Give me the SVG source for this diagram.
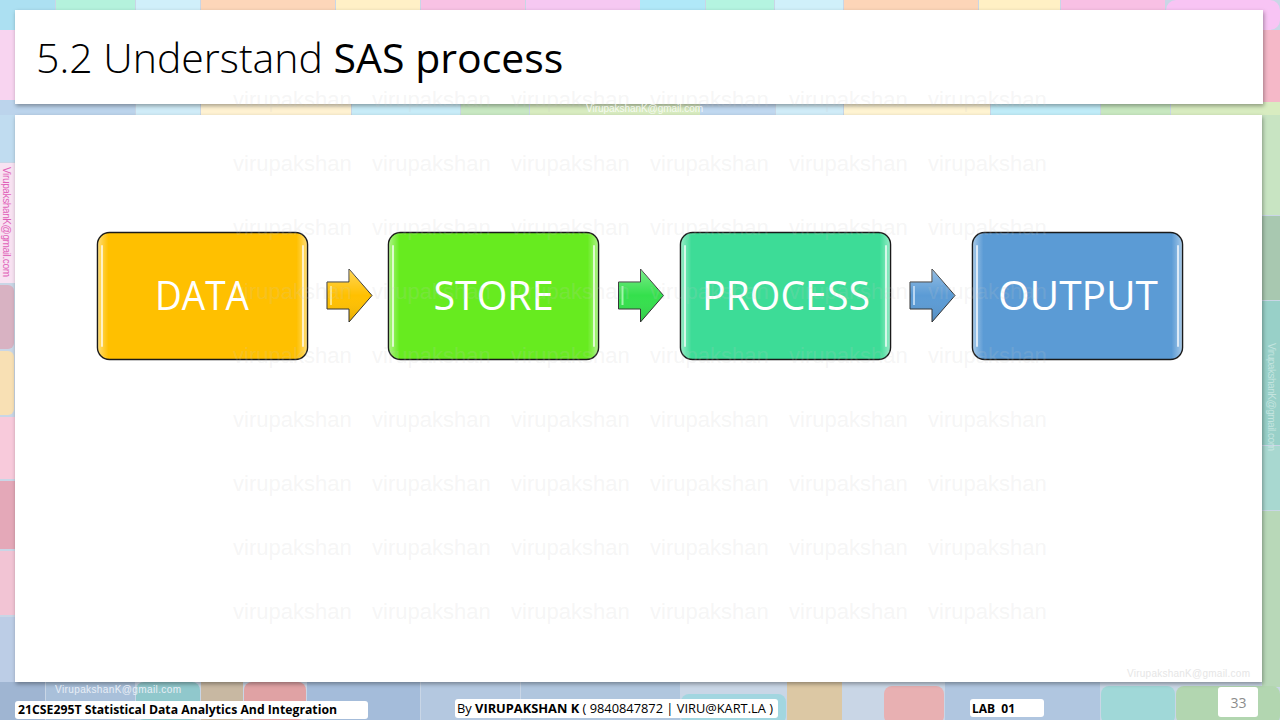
<svg xmlns="http://www.w3.org/2000/svg" width="1280" height="720" viewBox="0 0 1280 720">
<defs>
<style>
.wm{font-family:"Liberation Sans",Arial,sans-serif;font-size:22px;fill:#c8c8c8;fill-opacity:0.18}
.lbl{font-family:"Open Sans","Liberation Sans",sans-serif;font-size:40px;fill:#ffffff;text-anchor:middle}
.box{stroke:#1a1a1a;stroke-width:1.5}
.edge{fill:url(#edgeG)}
.hl{stroke:#ffffff;stroke-opacity:0.7;stroke-width:2;stroke-linecap:round}
.arr{stroke:#333333;stroke-width:1;stroke-linejoin:miter}
.ft{font-family:"Open Sans","Liberation Sans",sans-serif;font-size:12px;fill:#000000}
.fbox{fill:#ffffff}
.tt{font-family:"Open Sans","Liberation Sans",sans-serif;font-size:41px;fill:#000000}
.mail{font-family:"Liberation Sans",Arial,sans-serif;font-size:10px}
</style>
<filter id="sh" x="-2%" y="-10%" width="104%" height="130%">
<feDropShadow dx="1" dy="2" stdDeviation="2" flood-color="#000000" flood-opacity="0.35"/>
</filter>
<linearGradient id="edgeG" x1="0" x2="1" y1="0" y2="0">
<stop offset="0" stop-color="#ffffff" stop-opacity="0.45"/>
<stop offset="0.05" stop-color="#ffffff" stop-opacity="0"/>
<stop offset="0.95" stop-color="#ffffff" stop-opacity="0"/>
<stop offset="1" stop-color="#ffffff" stop-opacity="0.45"/>
</linearGradient>
<linearGradient id="arrG" x1="0" x2="0" y1="0" y2="1">
<stop offset="0" stop-color="#ffffff" stop-opacity="0.35"/>
<stop offset="0.5" stop-color="#ffffff" stop-opacity="0"/>
<stop offset="1" stop-color="#000000" stop-opacity="0.12"/>
</linearGradient>
</defs>

<!-- background tiles -->
<g id="background">
<rect x="0" y="0" width="1280" height="720" fill="#c9d6e6"/>
<rect x="0" y="0" width="55" height="30" fill="#ace0f2"/>
<rect x="56" y="0" width="79" height="30" fill="#b4f2dc"/>
<rect x="136" y="0" width="64" height="30" fill="#d0effa"/>
<rect x="201" y="0" width="134" height="30" fill="#fdd6b9"/>
<rect x="336" y="0" width="84" height="30" fill="#fff0c6"/>
<rect x="421" y="0" width="104" height="30" fill="#f8c2e4"/>
<rect x="526" y="0" width="114" height="30" fill="#f6c8f2"/>
<rect x="640" y="0" width="65" height="30" fill="#b0e8f8"/>
<rect x="706" y="0" width="68" height="30" fill="#b4f4e0"/>
<rect x="775" y="0" width="68" height="30" fill="#d0f0fa"/>
<rect x="844" y="0" width="134" height="30" fill="#fdd5b8"/>
<rect x="979" y="0" width="81" height="30" fill="#fff0c4"/>
<rect x="1061" y="0" width="104" height="30" fill="#f8c0e4"/>
<rect x="1166" y="0" width="114" height="30" rx="10" fill="#f8c4f4"/>
<rect x="0" y="100" width="135" height="20" fill="#bcd4ec"/>
<rect x="136" y="100" width="64" height="20" fill="#d0ecf8"/>
<rect x="201" y="100" width="150" height="20" fill="#fff2d2"/>
<rect x="352" y="100" width="108" height="20" fill="#c8ecf8"/>
<rect x="461" y="100" width="68" height="20" fill="#c8e8c2"/>
<rect x="530" y="100" width="170" height="20" fill="#d8ecc0"/>
<rect x="700" y="100" width="75" height="20" fill="#c0d8f0"/>
<rect x="776" y="100" width="67" height="20" fill="#d0ecf8"/>
<rect x="844" y="100" width="146" height="20" fill="#fff4d2"/>
<rect x="991" y="100" width="109" height="20" fill="#c0ecf8"/>
<rect x="1101" y="100" width="69" height="20" fill="#c8e8c0"/>
<rect x="1171" y="100" width="109" height="20" fill="#d8ecc0"/>
<rect x="0" y="30" width="15" height="70" fill="#f8d4f0"/>
<rect x="0" y="115" width="15" height="47" fill="#c0dcf0"/>
<rect x="0" y="163" width="15" height="120" fill="#f8e2f2"/>
<rect x="-6" y="285" width="20" height="64" rx="6" fill="#d8b2c2"/>
<rect x="-6" y="351" width="20" height="64" rx="6" fill="#f8e0b4"/>
<rect x="0" y="417" width="15" height="62" fill="#f8cadb"/>
<rect x="0" y="481" width="15" height="68" fill="#e4a8b8"/>
<rect x="0" y="551" width="15" height="64" fill="#f2c4d4"/>
<rect x="0" y="617" width="15" height="70" fill="#bccde6"/>
<rect x="1262" y="30" width="18" height="72" fill="#f5b8c8"/>
<rect x="1262" y="115" width="18" height="100" fill="#c8e4c2"/>
<rect x="1262" y="216" width="18" height="84" fill="#a8c8b0"/>
<rect x="1262" y="301" width="18" height="144" fill="#98d0c8"/>
<rect x="1262" y="446" width="18" height="64" fill="#a8d8d0"/>
<rect x="1262" y="511" width="18" height="176" fill="#b8d8b8"/>
<rect x="0" y="682" width="45" height="38" fill="#9fb5d2"/>
<rect x="46" y="682" width="89" height="38" fill="#a9c0da"/>
<rect x="136" y="682" width="64" height="38" rx="8" fill="#90c8cc"/>
<rect x="201" y="682" width="42" height="38" fill="#c8b8a2"/>
<rect x="244" y="682" width="62" height="38" rx="8" fill="#e0a2a4"/>
<rect x="307" y="682" width="113" height="38" fill="#a4bcda"/>
<rect x="421" y="682" width="99" height="38" fill="#b4c8e0"/>
<rect x="521" y="682" width="159" height="38" fill="#b0c6de"/>
<rect x="681" y="694" width="105" height="30" rx="8" fill="#a2d6e0"/>
<rect x="787" y="682" width="55" height="38" fill="#dcc8a4"/>
<rect x="884" y="686" width="60" height="38" rx="8" fill="#e8b0b2"/>
<rect x="945" y="682" width="155" height="38" fill="#b0c6e0"/>
<rect x="1101" y="686" width="74" height="38" rx="8" fill="#a0d8d8"/>
<rect x="1176" y="686" width="104" height="38" rx="8" fill="#b2d6b0"/>
</g>

<!-- panels -->
<rect id="titlebar" x="15" y="10" width="1248" height="94" fill="#ffffff" filter="url(#sh)"/>
<rect id="content" x="15" y="115" width="1247" height="567" fill="#ffffff" filter="url(#sh)"/>

<text class="tt" x="36" y="73"><tspan font-weight="300">5.2 Understand </tspan><tspan font-weight="400">SAS process</tspan></text>

<!-- nodes -->
<g id="node-data">
<rect class="box" x="97.5" y="232.5" width="210" height="127" rx="12" fill="#ffc000"/>
<rect class="edge" x="98" y="233" width="209" height="126" rx="12"/>
<line class="hl" x1="102" y1="246" x2="102" y2="346"/>
<line class="hl" x1="303" y1="246" x2="303" y2="346"/>
<text class="lbl" x="202" y="310" textLength="94" lengthAdjust="spacingAndGlyphs">DATA</text>
</g>
<g id="node-store">
<rect class="box" x="388.5" y="232.5" width="210" height="127" rx="12" fill="#67eb1f"/>
<rect class="edge" x="389" y="233" width="209" height="126" rx="12"/>
<line class="hl" x1="393" y1="246" x2="393" y2="346"/>
<line class="hl" x1="594" y1="246" x2="594" y2="346"/>
<text class="lbl" x="493.5" y="310" textLength="120" lengthAdjust="spacingAndGlyphs">STORE</text>
</g>
<g id="node-process">
<rect class="box" x="680.5" y="232.5" width="210" height="127" rx="12" fill="#3ddc97"/>
<rect class="edge" x="681" y="233" width="209" height="126" rx="12"/>
<line class="hl" x1="685" y1="246" x2="685" y2="346"/>
<line class="hl" x1="886" y1="246" x2="886" y2="346"/>
<text class="lbl" x="786" y="310" textLength="168" lengthAdjust="spacingAndGlyphs">PROCESS</text>
</g>
<g id="node-output">
<rect class="box" x="972.5" y="232.5" width="210" height="127" rx="12" fill="#5b9bd5"/>
<rect class="edge" x="973" y="233" width="209" height="126" rx="12"/>
<line class="hl" x1="977" y1="246" x2="977" y2="346"/>
<line class="hl" x1="1178" y1="246" x2="1178" y2="346"/>
<text class="lbl" x="1078" y="310" textLength="160" lengthAdjust="spacingAndGlyphs">OUTPUT</text>
</g>

<!-- connectors -->
<g id="connectors">
<g>
<polygon class="arr" points="327,282 349,282 349,269 372,295.5 349,322 349,309 327,309" fill="#ffc000"/>
<polygon points="327,282 349,282 349,269 372,295.5 349,322 349,309 327,309" fill="url(#arrG)"/>
<polyline points="331,286 331,305" stroke="#ffe680" stroke-width="2" fill="none"/>
</g>
<g transform="translate(291.5,0)">
<polygon class="arr" points="327,282 349,282 349,269 372,295.5 349,322 349,309 327,309" fill="#34e04c"/>
<polygon points="327,282 349,282 349,269 372,295.5 349,322 349,309 327,309" fill="url(#arrG)"/>
<polyline points="331,286 331,305" stroke="#a0f5aa" stroke-width="2" fill="none"/>
</g>
<g transform="translate(583,0)">
<polygon class="arr" points="327,282 349,282 349,269 372,295.5 349,322 349,309 327,309" fill="#5b9bd5"/>
<polygon points="327,282 349,282 349,269 372,295.5 349,322 349,309 327,309" fill="url(#arrG)"/>
<polyline points="331,286 331,305" stroke="#b8d6f2" stroke-width="2" fill="none"/>
</g>
</g>

<!-- watermarks -->
<g id="watermark" class="wm">
<text x="233" y="107">virupakshan</text><text x="372" y="107">virupakshan</text><text x="511" y="107">virupakshan</text><text x="650" y="107">virupakshan</text><text x="789" y="107">virupakshan</text><text x="928" y="107">virupakshan</text>
<text x="233" y="171">virupakshan</text><text x="372" y="171">virupakshan</text><text x="511" y="171">virupakshan</text><text x="650" y="171">virupakshan</text><text x="789" y="171">virupakshan</text><text x="928" y="171">virupakshan</text>
<text x="233" y="235">virupakshan</text><text x="372" y="235">virupakshan</text><text x="511" y="235">virupakshan</text><text x="650" y="235">virupakshan</text><text x="789" y="235">virupakshan</text><text x="928" y="235">virupakshan</text>
<text x="233" y="299">virupakshan</text><text x="372" y="299">virupakshan</text><text x="511" y="299">virupakshan</text><text x="650" y="299">virupakshan</text><text x="789" y="299">virupakshan</text><text x="928" y="299">virupakshan</text>
<text x="233" y="363">virupakshan</text><text x="372" y="363">virupakshan</text><text x="511" y="363">virupakshan</text><text x="650" y="363">virupakshan</text><text x="789" y="363">virupakshan</text><text x="928" y="363">virupakshan</text>
<text x="233" y="427">virupakshan</text><text x="372" y="427">virupakshan</text><text x="511" y="427">virupakshan</text><text x="650" y="427">virupakshan</text><text x="789" y="427">virupakshan</text><text x="928" y="427">virupakshan</text>
<text x="233" y="491">virupakshan</text><text x="372" y="491">virupakshan</text><text x="511" y="491">virupakshan</text><text x="650" y="491">virupakshan</text><text x="789" y="491">virupakshan</text><text x="928" y="491">virupakshan</text>
<text x="233" y="555">virupakshan</text><text x="372" y="555">virupakshan</text><text x="511" y="555">virupakshan</text><text x="650" y="555">virupakshan</text><text x="789" y="555">virupakshan</text><text x="928" y="555">virupakshan</text>
<text x="233" y="619">virupakshan</text><text x="372" y="619">virupakshan</text><text x="511" y="619">virupakshan</text><text x="650" y="619">virupakshan</text><text x="789" y="619">virupakshan</text><text x="928" y="619">virupakshan</text>
</g>

<!-- email marks -->
<text class="mail" x="586" y="112" fill="#ffffff" fill-opacity="0.8" textLength="117">VirupakshanK@gmail.com</text>
<text class="mail" x="1127" y="677" fill="#e6e6e6" textLength="123">VirupakshanK@gmail.com</text>
<text class="mail" x="55" y="693" fill="#e8eef6" textLength="126">VirupakshanK@gmail.com</text>
<text class="mail" transform="translate(3,167) rotate(90)" fill="#e060b8" textLength="110" font-size="9">VirupakshanK@gmail.com</text>
<text class="mail" transform="translate(1268,343) rotate(90)" fill="#d8eeea" fill-opacity="0.7" textLength="108" font-size="9">VirupakshanK@gmail.com</text>

<!-- footer -->
<g id="footer">
<rect class="fbox" x="15" y="701" width="353" height="18" rx="3"/>
<text class="ft" x="18" y="714" font-weight="700" textLength="319" lengthAdjust="spacingAndGlyphs">21CSE295T Statistical Data Analytics And Integration</text>
<rect class="fbox" x="455" y="699" width="323" height="19" rx="3"/>
<text class="ft" x="457" y="713" textLength="316" lengthAdjust="spacingAndGlyphs">By <tspan font-weight="700">VIRUPAKSHAN K</tspan> ( 9840847872 | VIRU@KART.LA )</text>
<rect class="fbox" x="970" y="699" width="74" height="18" rx="3"/>
<text class="ft" x="972" y="713" font-weight="700" xml:space="preserve">LAB  01</text>
<rect class="fbox" x="1218" y="687" width="40" height="30" rx="3"/>
<text x="1238.5" y="708" font-family="'Open Sans','Liberation Sans',sans-serif" font-size="14" fill="#8c8c8c" text-anchor="middle">33</text>
</g>
</svg>
